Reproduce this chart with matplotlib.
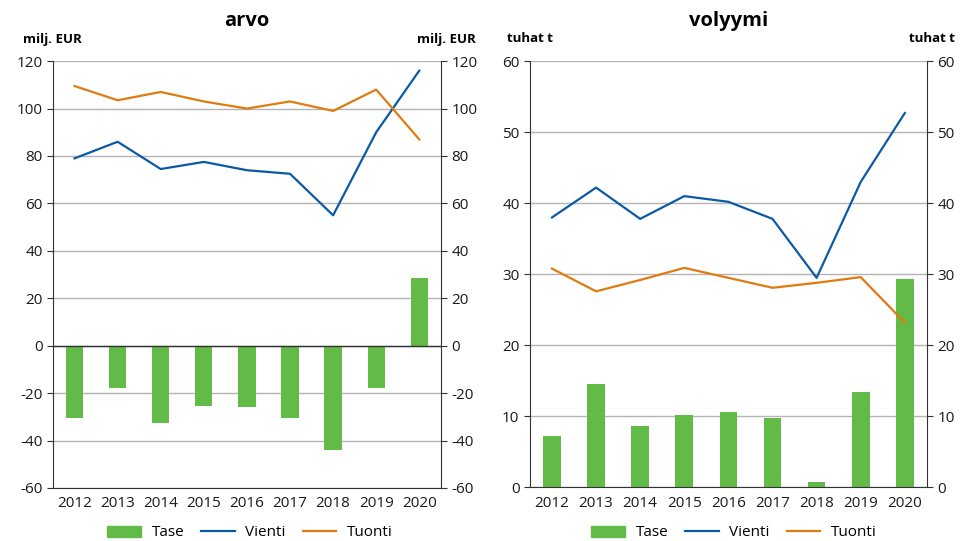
import matplotlib.pyplot as plt
import numpy as np
from matplotlib.patches import Patch
from matplotlib.lines import Line2D

# data
years = ["2012", "2013", "2014", "2015", "2016", "2017", "2018", "2019", "2020"]

arvo_vienti = [79, 86, 74.5, 77.5, 74, 72.5, 55, 90, 116]
arvo_tuonti = [109.5, 103.5, 107, 103, 100, 103, 99, 108, 87]
arvo_tase = [-30.5, -17.8, -32.5, -25.5, -26, -30.5, -44, -18, 28.5]

vol_vienti = [38, 42.2, 37.8, 41, 40.2, 37.8, 29.5, 43, 52.7]
vol_tuonti = [30.8, 27.6, 29.2, 30.9, 29.5, 28.1, 28.8, 29.6, 23.2]
vol_tase = [7.2, 14.6, 8.6, 10.2, 10.6, 9.8, 0.7, 13.4, 29.4]

GREEN = "#62bb46"
BLUE = "#0a5aa6"
ORANGE = "#e07b10"
plt.rcParams["font.family"] = ["Open Sans", "DejaVu Sans"]
plt.rcParams["axes.unicode_minus"] = False

fig = plt.figure(figsize=(9.6, 5.41), dpi=100)
ax1 = fig.add_axes([0.0552, 0.098, 0.404, 0.789])
ax2 = fig.add_axes([0.552, 0.099, 0.4135, 0.788])


def draw(ax, tase, vienti, tuonti, ylim, step, title, unit, unit_x, leg_x):
    x = np.arange(len(years))
    ax.set_axisbelow(True)
    ax.yaxis.grid(True, color="#b4b4b4", lw=1)
    ax.bar(x, tase, width=0.4, color=GREEN, zorder=2)
    ax.plot(x, vienti, color=BLUE, lw=1.6, zorder=3)
    ax.plot(x, tuonti, color=ORANGE, lw=1.6, zorder=3)
    if ylim[0] < 0:
        ax.axhline(0, color="#333333", lw=1, zorder=2.5)
    ax.set_xlim(-0.5, len(years) - 0.5)
    ax.set_ylim(*ylim)
    ax.set_yticks(np.arange(ylim[0], ylim[1] + 1, step))
    ax.set_xticks(x)
    ax.set_xticklabels(years)
    ax.spines["top"].set_visible(False)
    for s in ["left", "right", "bottom"]:
        ax.spines[s].set_color("#333333")
    ax.tick_params(axis="y", right=True, labelright=True, direction="out",
                   length=4, color="#333333", labelsize=11, labelcolor="#1a1a1a")
    ax.tick_params(axis="x", length=0, labelsize=11, labelcolor="#1a1a1a", pad=6)
    ax.set_title(title, fontsize=14.5, fontweight="bold", pad=25)
    fig.text(unit_x[0] / 960, 1 - 39 / 541, unit, ha="left", va="center",
             fontsize=9.5, fontweight="bold")
    fig.text(unit_x[1] / 960, 1 - 39 / 541, unit, ha="right", va="center",
             fontsize=9.5, fontweight="bold")
    handles = [Patch(color=GREEN, label="Tase"),
               Line2D([], [], color=BLUE, lw=1.6, label="Vienti"),
               Line2D([], [], color=ORANGE, lw=1.6, label="Tuonti")]
    fig.legend(handles=handles, loc="center", bbox_to_anchor=(leg_x / 960, 1 - 533 / 541),
               ncol=3, frameon=False, fontsize=11, handlelength=2.2,
               handletextpad=0.7, columnspacing=1.1, borderpad=0)


draw(ax1, arvo_tase, arvo_vienti, arvo_tuonti, (-60, 120), 20, "arvo", "milj. EUR",
     (23, 476), 250)
draw(ax2, vol_tase, vol_vienti, vol_tuonti, (0, 60), 10, "volyymi", "tuhat t",
     (507, 955), 734)
fig.savefig("out.png", dpi=100)
